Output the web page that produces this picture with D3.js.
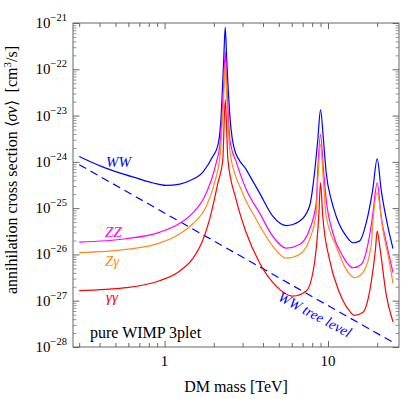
<!DOCTYPE html>
<html>
<head>
<meta charset="utf-8">
<script src="https://cdn.jsdelivr.net/npm/d3@7/dist/d3.min.js"></script>
<style>
    body { margin: 0; background: #fff; }
    svg text { font-family: "Liberation Serif", "Times New Roman", serif; }
</style>
</head>
<body>
<div id="chart"></div>
<script>
const WIDTH = 405;
const HEIGHT = 399;

// axis ranges and ticks
const massDomain = [0.275, 27.2];
const sigmaDomain = [1e-28, 1e-21];
const massMajor = [1, 10];
const massMinor = [0.3, 0.4, 0.5, 0.6, 0.7, 0.8, 0.9, 2, 3, 4, 5, 6, 7, 8, 9, 20];
const sigmaExponents = [-28, -27, -26, -25, -24, -23, -22, -21];

// [DM mass in TeV, <sigma v> in cm^3/s]
const ww = [
    [0.30, 1.31e-24], [0.41, 8.0e-25], [0.53, 5.8e-25], [0.67, 4.5e-25], [0.85, 3.5e-25],
    [1.02, 3.1e-25], [1.24, 3.3e-25], [1.42, 3.9e-25], [1.72, 6.1e-25], [1.97, 1.3e-24],
    [2.12, 2.3e-24], [2.20, 6.3e-24], [2.30, 1.6e-22], [2.35, 8.1e-22], [2.40, 1.6e-22],
    [2.52, 8.1e-24], [2.68, 1.83e-24], [3.16, 6.8e-25], [3.81, 2.14e-25], [4.59, 6.7e-26],
    [5.55, 4.2e-26], [6.69, 5.2e-26], [7.71, 1.1e-25], [8.27, 5.8e-25], [8.66, 3.0e-24],
    [9.00, 1.33e-23], [9.38, 3.0e-24], [9.75, 5.8e-25], [10.47, 1.53e-25], [11.22, 6.7e-26],
    [12.92, 2.48e-26], [14.18, 1.79e-26], [15.59, 1.94e-26], [17.13, 4.8e-26], [18.79, 2.52e-25],
    [20.0, 1.16e-24], [21.15, 2.52e-25], [23.22, 4.07e-26], [25.0, 1.33e-26]
];

const zz = [
    [0.30, 1.84e-26], [0.58, 2.18e-26], [0.93, 3.0e-26], [1.24, 4.7e-26], [1.49, 7.9e-26],
    [1.72, 1.53e-25], [1.93, 4.0e-25], [2.07, 9.6e-25], [2.19, 2.72e-24], [2.30, 4.84e-23],
    [2.35, 2.40e-22], [2.40, 4.84e-23], [2.52, 2.72e-24], [2.74, 1.01e-24], [3.16, 2.52e-25],
    [3.81, 7.9e-26], [4.59, 2.48e-26], [5.55, 1.37e-26], [6.69, 1.64e-26], [7.71, 3.46e-26],
    [8.47, 1.30e-25], [8.66, 6.8e-25], [9.00, 3.86e-24], [9.38, 6.8e-25], [9.75, 1.53e-25],
    [10.70, 2.94e-26], [12.31, 9.2e-27], [14.18, 5.16e-27], [15.96, 6.08e-27], [17.94, 2.48e-26],
    [18.79, 7.28e-26], [20.0, 3.51e-25], [21.15, 6.68e-26], [23.22, 1.28e-26], [25.0, 4.03e-27]
];

const zgamma = [
    [0.30, 1.09e-26], [0.58, 1.28e-26], [0.93, 1.75e-26], [1.24, 2.8e-26], [1.49, 4.6e-26],
    [1.80, 1.10e-25], [2.02, 3.51e-25], [2.19, 1.50e-24], [2.30, 2.67e-23], [2.35, 1.35e-22],
    [2.40, 2.67e-23], [2.52, 1.50e-24], [2.94, 2.52e-25], [3.64, 5.68e-26], [4.59, 1.51e-26],
    [5.55, 8.3e-27], [6.69, 1.0e-26], [7.71, 2.10e-26], [8.47, 7.9e-26], [8.66, 3.74e-25],
    [9.00, 2.35e-24], [9.38, 3.74e-25], [9.75, 6.68e-26], [11.22, 1.51e-26], [12.92, 4.75e-27],
    [14.53, 3.15e-27], [16.32, 4.03e-27], [18.37, 1.51e-26], [18.79, 4.66e-26], [20.0, 2.14e-25],
    [21.64, 3.46e-26], [23.77, 6.62e-27], [25.0, 2.37e-27]
];

const gammagamma = [
    [0.30, 1.65e-27], [0.58, 1.91e-27], [0.93, 2.7e-27], [1.24, 4.4e-27], [1.49, 8.2e-27],
    [1.72, 2.10e-26], [1.93, 7.9e-26], [2.12, 3.51e-25], [2.27, 1.11e-24], [2.35, 2.19e-23],
    [2.44, 1.11e-24], [2.74, 1.53e-25], [3.16, 2.94e-26], [3.81, 6.62e-27], [4.82, 2.07e-27],
    [6.09, 1.26e-27], [7.36, 1.62e-27], [8.27, 6.62e-27], [8.78, 6.68e-26], [9.00, 3.51e-25],
    [9.29, 6.68e-26], [10.21, 7.8e-27], [11.75, 1.50e-27], [13.54, 6.0e-28], [14.53, 4.84e-28],
    [16.32, 5.54e-28], [18.37, 2.45e-27], [19.52, 1.28e-26], [20.0, 3.18e-26], [20.86, 1.28e-26],
    [22.70, 1.37e-27], [25.0, 3.47e-28]
];

const wwTree = [[0.30, 8.7e-25], [25.0, 1.26e-28]];

const series = [
    {name: "ww", data: ww, color: "#0000ff"},
    {name: "zz", data: zz, color: "#ff00ff"},
    {name: "zgamma", data: zgamma, color: "#ff8c1a"},
    {name: "gammagamma", data: gammagamma, color: "#ff0000"}
];

const margin = {top: 23, right: 6, bottom: 52, left: 73};
const width = WIDTH - margin.left - margin.right;
const height = HEIGHT - margin.top - margin.bottom;

const svg = d3.select("#chart").append("svg")
    .attr("width", WIDTH)
    .attr("height", HEIGHT);

const g = svg.append("g")
    .attr("transform", "translate(" + margin.left + "," + margin.top + ")");

const x = d3.scaleLog().domain(massDomain).range([0, width]);
const y = d3.scaleLog().domain(sigmaDomain).range([height, 0]);

const sigmaMajor = sigmaExponents.map(e => Math.pow(10, e));
let sigmaMinor = [];
sigmaExponents.slice(0, -1).forEach(function(e) {
    for (let k = 2; k <= 9; k++) sigmaMinor.push(k * Math.pow(10, e));
});

const axisColor = "#666";

function styleAxis(sel, color) {
    sel.select(".domain").remove();
    sel.selectAll("line").attr("stroke", color);
    sel.selectAll("text").remove();
}

// inward ticks on all four sides
g.append("g").attr("transform", "translate(0," + height + ")")
    .call(d3.axisBottom(x).tickValues(massMinor).tickSizeInner(-4).tickSizeOuter(0))
    .call(styleAxis, axisColor);
g.append("g").attr("transform", "translate(0," + height + ")")
    .call(d3.axisBottom(x).tickValues(massMajor).tickSizeInner(-6).tickSizeOuter(0))
    .call(styleAxis, axisColor);
g.append("g")
    .call(d3.axisTop(x).tickValues(massMinor).tickSizeInner(-4).tickSizeOuter(0))
    .call(styleAxis, axisColor);
g.append("g")
    .call(d3.axisTop(x).tickValues(massMajor).tickSizeInner(-6).tickSizeOuter(0))
    .call(styleAxis, axisColor);

g.append("g")
    .call(d3.axisLeft(y).tickValues(sigmaMinor).tickSizeInner(-3.5).tickSizeOuter(0))
    .call(styleAxis, "#999");
g.append("g")
    .call(d3.axisLeft(y).tickValues(sigmaMajor).tickSizeInner(-6.5).tickSizeOuter(0))
    .call(styleAxis, axisColor);
g.append("g").attr("transform", "translate(" + width + ",0)")
    .call(d3.axisRight(y).tickValues(sigmaMinor).tickSizeInner(-3.5).tickSizeOuter(0))
    .call(styleAxis, "#999");
g.append("g").attr("transform", "translate(" + width + ",0)")
    .call(d3.axisRight(y).tickValues(sigmaMajor).tickSizeInner(-6.5).tickSizeOuter(0))
    .call(styleAxis, axisColor);

// tick labels
g.selectAll(".xlabel")
    .data(massMajor)
    .enter().append("text")
    .attr("class", "xlabel")
    .attr("x", d => x(d))
    .attr("y", height + 19)
    .attr("text-anchor", "middle")
    .style("font-size", "15px")
    .text(d => d);

const yl = g.selectAll(".ylabel")
    .data(sigmaExponents)
    .enter().append("text")
    .attr("class", "ylabel")
    .attr("x", -6)
    .attr("y", d => y(Math.pow(10, d)) + 5)
    .attr("text-anchor", "end")
    .style("font-size", "15px");
yl.append("tspan").text("10");
yl.append("tspan")
    .attr("dy", -7)
    .style("font-size", "10.5px")
    .text(d => "\u2212" + (-d));

// curves
g.append("defs").append("clipPath").attr("id", "clip")
    .append("rect").attr("width", width).attr("height", height);

const line = d3.line()
    .x(d => x(d[0]))
    .y(d => y(d[1]))
    .curve(d3.curveMonotoneX);

const plot = g.append("g").attr("clip-path", "url(#clip)");

plot.append("path")
    .datum(wwTree)
    .attr("fill", "none")
    .attr("stroke", "#0000ff")
    .attr("stroke-width", 1.2)
    .attr("stroke-dasharray", "8,5")
    .attr("d", line);

plot.selectAll(".curve")
    .data(series)
    .enter().append("path")
    .attr("class", "curve")
    .attr("fill", "none")
    .attr("stroke", d => d.color)
    .attr("stroke-width", 1.2)
    .attr("stroke-linejoin", "round")
    .attr("d", d => line(d.data));

// frame
g.append("rect")
    .attr("width", width)
    .attr("height", height)
    .attr("fill", "none")
    .attr("stroke", axisColor)
    .attr("stroke-width", 1);

// curve labels
const labels = [
    {text: "WW", x: 33, y: 144, color: "#0000ff"},
    {text: "ZZ", x: 32, y: 214, color: "#ff00ff"},
    {text: "Z\u03b3", x: 32, y: 243, color: "#ff8c1a"},
    {text: "\u03b3\u03b3", x: 33, y: 279, color: "#ff0000"}
];
g.selectAll(".clabel")
    .data(labels)
    .enter().append("text")
    .attr("class", "clabel")
    .attr("x", d => d.x)
    .attr("y", d => d.y)
    .attr("fill", d => d.color)
    .style("font-size", "15px")
    .style("font-style", "italic")
    .text(d => d.text);

const t0 = [x(wwTree[0][0]), y(wwTree[0][1])];
const t1 = [x(wwTree[1][0]), y(wwTree[1][1])];
const angle = Math.atan2(t1[1] - t0[1], t1[0] - t0[0]) * 180 / Math.PI - 1.5;
g.append("text")
    .attr("transform", "translate(204,277) rotate(" + angle + ")")
    .attr("fill", "#0000ff")
    .style("font-size", "14.5px")
    .style("font-style", "italic")
    .text("WW tree level");

g.append("text")
    .attr("x", 17)
    .attr("y", height - 9)
    .style("font-size", "16px")
    .text("pure WIMP 3plet");

// axis titles
svg.append("text")
    .attr("x", margin.left + width / 2)
    .attr("y", 392)
    .attr("text-anchor", "middle")
    .style("font-size", "16px")
    .text("DM mass [TeV]");

const ytitle = svg.append("text")
    .attr("transform", "translate(17," + (margin.top + 147) + ") rotate(-90)")
    .attr("text-anchor", "middle")
    .style("font-size", "16px");
ytitle.append("tspan").text("annihilation cross section \u27e8");
ytitle.append("tspan").style("font-style", "italic").text("\u03c3v");
ytitle.append("tspan").text("\u27e9\u00a0\u00a0[cm");
ytitle.append("tspan").attr("dy", -6).style("font-size", "11px").text("3");
ytitle.append("tspan").attr("dy", 6).text("/s]");
</script>
</body>
</html>
